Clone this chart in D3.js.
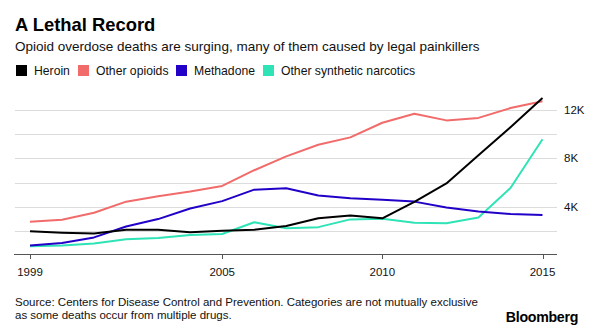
<!DOCTYPE html>
<html lang="en">
<head>
    <meta charset="UTF-8">
    <title>A Lethal Record</title>
    <script src="https://d3js.org/d3.v7.min.js"></script>
    <style>
        body {
            margin: 0;
            background: #fff;
            font-family: "Liberation Sans", Arial, sans-serif;
        }
        .grid line { stroke: #dcdcdc; stroke-width: 1; }
        .axis-label { font-size: 11.5px; fill: #111; }
        .series { fill: none; stroke-width: 2; stroke-linejoin: round; }
    </style>
</head>
<body>
    <svg id="chart" width="600" height="331"></svg>

    <script>
        // Drug overdose deaths by opioid type, 1999-2015
        const years = d3.range(1999, 2016);
        const heroin = [1960, 1842, 1779, 2089, 2080, 1878, 2009, 2088, 2399, 3041, 3278, 3036, 4397, 5925, 8257, 10574, 12989];
        const otherOpioids = [2749, 2917, 3497, 4416, 4867, 5254, 5714, 7017, 8158, 9119, 9735, 10943, 11693, 11140, 11346, 12159, 12727];
        const methadone = [784, 986, 1456, 2358, 2972, 3845, 4460, 5406, 5518, 4924, 4696, 4577, 4418, 3932, 3591, 3400, 3301];
        const synthetic = [730, 782, 957, 1295, 1400, 1664, 1742, 2707, 2213, 2306, 2946, 3007, 2666, 2628, 3105, 5544, 9580];

        const seriesNames = ["Heroin", "Other opioids", "Methadone", "Other synthetic narcotics"];
        const seriesColors = ["#000000", "#f26b6b", "#2200c8", "#2ee3b5"];
        const seriesValues = [heroin, otherOpioids, methadone, synthetic];

        const gridValues = [2000, 4000, 6000, 8000, 10000, 12000];
        const tickValues = [4000, 8000, 12000];
        const yearTicks = [1999, 2005, 2010, 2015];

        const svg = d3.select("#chart");

        svg.append("text")
            .attr("x", 15).attr("y", 31)
            .style("font-size", "18.4px").style("font-weight", "bold")
            .text("A Lethal Record");

        svg.append("text")
            .attr("x", 15).attr("y", 51)
            .style("font-size", "13.5px").attr("fill", "#111")
            .text("Opioid overdose deaths are surging, many of them caused by legal painkillers");

        // legend
        const legendX = [16, 78, 176, 263];
        const legend = svg.append("g");
        seriesNames.forEach((name, i) => {
            legend.append("rect")
                .attr("x", legendX[i]).attr("y", 65)
                .attr("width", 11).attr("height", 11)
                .attr("fill", seriesColors[i]);
            legend.append("text")
                .attr("x", legendX[i] + 18).attr("y", 75)
                .style("font-size", "12.2px").attr("fill", "#111")
                .text(name);
        });

        const x = d3.scaleLinear().domain([1999, 2015]).range([30, 542.5]);
        const y = d3.scaleLinear().domain([0, 12000]).range([255, 110]);

        svg.append("g").attr("class", "grid")
            .selectAll("line").data(gridValues).join("line")
            .attr("x1", 15).attr("x2", 557)
            .attr("y1", d => Math.round(y(d)) + 0.5).attr("y2", d => Math.round(y(d)) + 0.5);

        svg.append("g")
            .selectAll("text").data(tickValues).join("text")
            .attr("class", "axis-label")
            .attr("x", 564).attr("y", d => y(d) + 4)
            .text(d => (d / 1000) + "K");

        // x axis
        const xAxis = svg.append("g").attr("transform", "translate(0,254.5)");
        xAxis.append("line")
            .attr("x1", 14).attr("x2", 557)
            .attr("stroke", "#555").attr("stroke-width", 1);
        xAxis.selectAll(".tick").data(yearTicks).join("line")
            .attr("x1", d => Math.round(x(d)) + 0.5).attr("x2", d => Math.round(x(d)) + 0.5)
            .attr("y1", 0).attr("y2", 4.5)
            .attr("stroke", "#555");
        xAxis.selectAll("text").data(yearTicks).join("text")
            .attr("class", "axis-label")
            .attr("x", d => x(d)).attr("y", 21)
            .attr("text-anchor", "middle")
            .text(d => d);

        const line = d3.line()
            .x((d, i) => x(years[i]))
            .y(d => y(d));

        // draw back to front so heroin ends on top
        [3, 2, 1, 0].forEach(i => {
            svg.append("path")
                .datum(seriesValues[i])
                .attr("class", "series")
                .attr("stroke", seriesColors[i])
                .attr("d", line);
        });

        svg.append("text")
            .attr("x", 15).attr("y", 306)
            .style("font-size", "11.5px").attr("fill", "#111")
            .text("Source: Centers for Disease Control and Prevention. Categories are not mutually exclusive");
        svg.append("text")
            .attr("x", 15).attr("y", 319)
            .style("font-size", "11.5px").attr("fill", "#111")
            .text("as some deaths occur from multiple drugs.");

        svg.append("text")
            .attr("x", 578).attr("y", 322)
            .attr("text-anchor", "end")
            .style("font-size", "14.2px").style("font-weight", "bold")
            .style("letter-spacing", "-0.3px")
            .text("Bloomberg");
    </script>
</body>
</html>
